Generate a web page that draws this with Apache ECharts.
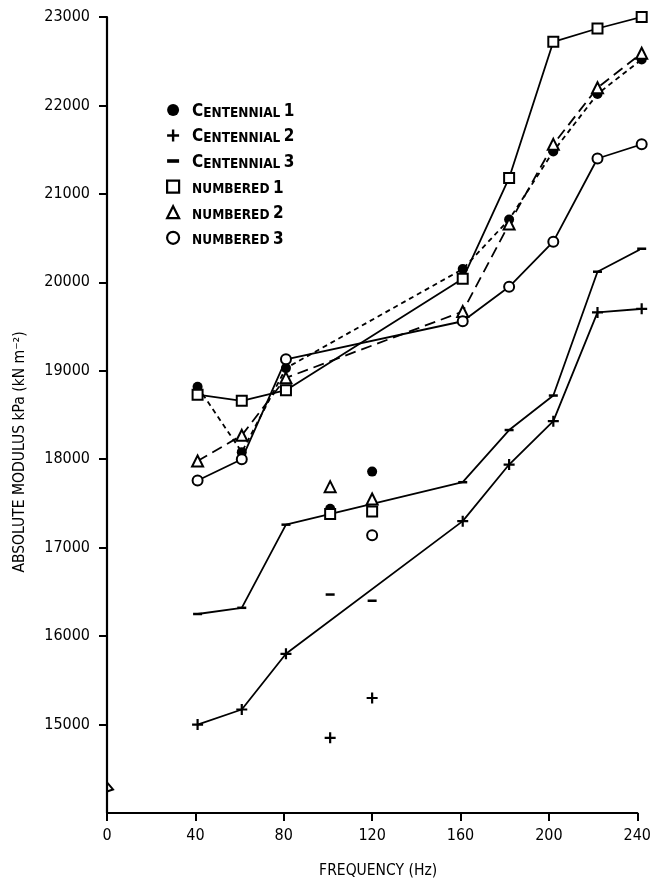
<!DOCTYPE html>
<html><head><meta charset="utf-8">
<script src="https://cdn.jsdelivr.net/npm/echarts@6/dist/echarts.min.js"></script>
<style>html,body{margin:0;padding:0;background:#fff}#c{width:654px;height:884px}</style>
</head><body><div id="c"></div>
<script>
// ---- data ----
const seriesNames = ['Centennial 1', 'Centennial 2', 'Centennial 3', 'numbered 1', 'numbered 2', 'numbered 3'];
const freqMain = [41, 61, 81, 161, 182, 202, 222, 242];
const c1 = [18820, 18080, 19030, 20150, 20710, 21480, 22130, 22520];
const c2 = [15000, 15170, 15800, 17300, 17940, 18430, 19660, 19700];
const c3 = [16250, 16320, 17260, 17740, 18330, 18720, 20120, 20380];
const n1 = [18730, 18660, 18780, 20040, 21180, 22720, 22870, 23000];
const n2 = [17980, 18270, 18920, 19670, 20660, 21560, 22200, 22590];
const n3 = [17760, 18000, 19130, 19560, 19950, 20460, 21400, 21560];
// isolated replicate points (not joined by lines)
const freqExtra = [101, 120];
const c1x = [17440, 17860];
const c2x = [14850, 15300];
const c3x = [16470, 16400];
const n1x = [17380, 17410];
const n2x = [17690, 17550];
const n3x = [null, 17140];
const xTicks = [0, 40, 80, 120, 160, 200, 240];
const yTicks = [15000, 16000, 17000, 18000, 19000, 20000, 21000, 22000, 23000];

const FONT = "'DejaVu Sans Condensed', 'Liberation Sans Narrow', sans-serif";
const plusPath = 'path://M4,0H6V4H10V6H6V10H4V6H0V4H4Z';

const styles = [
  {symbol: 'circle', size: 10, dash: [5, 4], empty: false},
  {symbol: plusPath, size: 11, dash: 'solid', empty: false},
  {symbol: 'rect', size: [9, 2.5], dash: 'solid', empty: false},
  {symbol: 'emptyRect', size: 10, dash: 'solid', empty: true},
  {symbol: 'emptyTriangle', size: 11, dash: [11, 6], empty: true},
  {symbol: 'emptyCircle', size: 10, dash: 'solid', empty: true}
];
const mainVals = [c1, c2, c3, n1, n2, n3];
const extraVals = [c1x, c2x, c3x, n1x, n2x, n3x];

const zip = (xs, ys) => xs.map((x, i) => [x, ys[i]]).filter(p => p[1] != null);

const series = [];
seriesNames.forEach((name, i) => {
  const st = styles[i];
  series.push({
    name, type: 'line', data: zip(freqMain, mainVals[i]),
    symbol: st.symbol, symbolSize: st.size, showAllSymbol: true, clip: false,
    lineStyle: {color: '#000', width: 1.8, type: st.dash},
    itemStyle: {color: '#000', borderColor: '#000', borderWidth: st.empty ? 2 : 0, opacity: 1},
    z: 2 + i, animation: false
  });
  series.push({
    name, type: 'scatter', data: zip(freqExtra, extraVals[i]),
    symbol: st.symbol, symbolSize: st.size, clip: false,
    itemStyle: {color: '#000', borderColor: '#000', borderWidth: st.empty ? 2 : 0, opacity: 1},
    z: 2 + i, animation: false
  });
});

const legendData = seriesNames.map((name, i) => {
  const st = styles[i];
  let icon = st.symbol;
  if (st.empty) icon = st.symbol.replace('empty', '').toLowerCase();
  if (i === 2) icon = 'path://M0,0H10V3H0Z';
  return {
    name, icon,
    itemStyle: st.empty ? {color: '#fff', borderColor: '#000', borderWidth: 2.2} : {color: '#000', borderWidth: 0}
  };
});

const chart = echarts.init(document.getElementById('c'), null, {renderer: 'canvas'});
chart.setOption({
  backgroundColor: '#fff',
  animation: false,
  grid: {left: 107, right: 11, top: 17, bottom: 71, containLabel: false},
  legend: {
    orient: 'vertical', left: 161, top: 98, itemGap: 8.5, itemWidth: 12, itemHeight: 12,
    data: legendData, selectedMode: false,
    formatter: (name) => {
      const parts = name.split(' ');
      const w = parts[0], n = parts[1];
      if (w[0] === 'C') return '{cap|C}{sc|' + w.slice(1).toUpperCase() + '} {cap|' + n + '}';
      return '{sc|' + w.toUpperCase() + '} {cap|' + n + '}';
    },
    textStyle: {
      color: '#000', fontFamily: FONT, padding: [0, 0, 0, 8],
      rich: {
        cap: {fontSize: 17, fontFamily: FONT, fontWeight: 'bold', color: '#000', verticalAlign: 'bottom', lineHeight: 20},
        sc: {fontSize: 13.5, fontFamily: FONT, fontWeight: 'bold', color: '#000', verticalAlign: 'bottom', lineHeight: 20}
      }
    }
  },
  xAxis: {
    type: 'value', min: 0, max: 240, interval: 40,
    name: 'FREQUENCY (Hz)', nameLocation: 'middle', nameGap: 50,
    nameTextStyle: {fontFamily: FONT, fontSize: 15.5, color: '#000', padding: [0, 0, 0, 12]},
    axisLine: {show: true, lineStyle: {color: '#000', width: 2.2}},
    axisTick: {show: true, length: 8, lineStyle: {color: '#000', width: 2}, customValues: xTicks},
    axisLabel: {fontFamily: FONT, fontSize: 16, color: '#000', margin: 15, customValues: xTicks,
      formatter: v => String(v)},
    splitLine: {show: false}
  },
  yAxis: {
    type: 'value', min: 14000, max: 23000, interval: 1000,
    name: 'ABSOLUTE MODULUS kPa (kN m⁻²)', nameLocation: 'middle', nameGap: 79, nameRotate: 90,
    nameTextStyle: {fontFamily: FONT, fontSize: 15.5, color: '#000', padding: [0, 74, 0, 0]},
    axisLine: {show: true, lineStyle: {color: '#000', width: 2.2}},
    axisTick: {show: true, length: 8, lineStyle: {color: '#000', width: 2}, customValues: yTicks},
    axisLabel: {fontFamily: FONT, fontSize: 16, color: '#000', margin: 17, customValues: yTicks,
      formatter: v => String(v), padding: [6, 0, 0, 0]},
    splitLine: {show: false}
  },
  series
});

// axis break mark near the bottom of the y axis
const p = chart.convertToPixel({gridIndex: 0}, [0, 14300]);
chart.setOption({
  graphic: [{
    type: 'polyline', shape: {points: [[p[0], p[1] - 4], [p[0] + 6, p[1] + 3], [p[0], p[1] + 5]]},
    style: {stroke: '#000', lineWidth: 2, fill: null}, z: 10
  }]
});
</script>
</body></html>
